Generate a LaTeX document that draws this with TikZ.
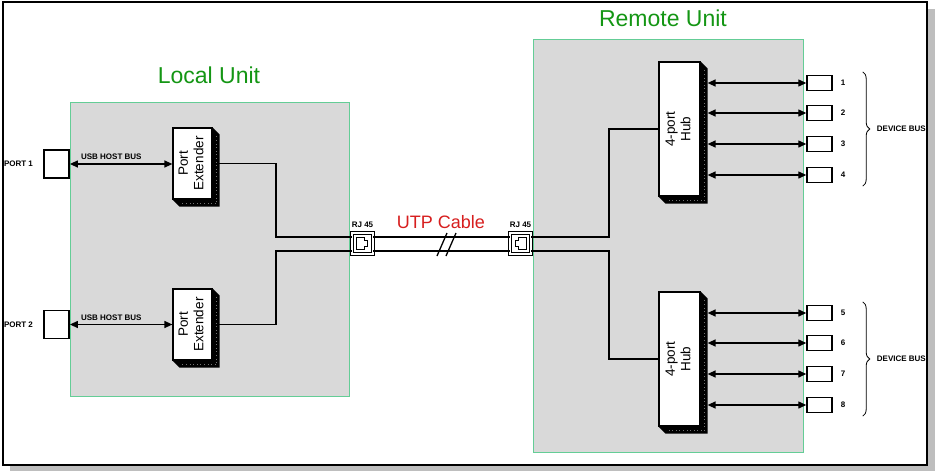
\documentclass[tikz,border=0pt]{standalone}
\usepackage{fontspec}
\setmainfont{Liberation Sans}
\usetikzlibrary{arrows.meta,calc,decorations.pathreplacing}

\definecolor{usbTitleColor}{RGB}{20,150,20}
\definecolor{usbCableColor}{RGB}{215,30,30}
\definecolor{usbUnitFill}{RGB}{217,217,217}
\definecolor{usbUnitBorder}{RGB}{100,205,150}
\definecolor{usbFrameShadow}{RGB}{190,190,190}

% black 3D edge along the right and bottom side of a block
\newcommand{\blockshade}[1]{%
  \fill[black] (#1.north east) -- ++(7,7) -- ($(#1.south east)+(7,7)$) -- ($(#1.south west)+(7,7)$) -- (#1.south west) -- (#1.south east) -- cycle;
  \draw[black!55, line width=.6pt, dash pattern=on .6pt off 3pt] ($(#1.north east)+(4,9)$) -- ($(#1.south east)+(4,4)$) -- ($(#1.south west)+(9,4)$);}

% RJ45 socket outline inside a jack, #2 = 1 or -1 for the side of the notch
\newcommand{\rjsocket}[2]{%
  \begin{scope}[shift={(#1.center)}, xscale=#2]
    \draw[line width=.9pt] (-6,-6) -- (2,-6) -- (2,-3) -- (5,-3) -- (5,3) -- (2,3) -- (2,6) -- (-6,6) -- cycle;
  \end{scope}}

\begin{document}
\begin{tikzpicture}[x=1pt, y=-1pt,
  wire/.style={line width=1.3pt},
  biarrow/.style={wire, {Triangle[length=8pt,width=7pt]}-{Triangle[length=8pt,width=7pt]}},
  portbox/.style={draw, line width=1.8pt, fill=white, minimum width=25pt, minimum height=28pt, inner sep=0pt},
  devbox/.style={draw, line width=1.4pt, fill=white, minimum width=25pt, minimum height=15pt, inner sep=0pt},
  block/.style={draw, line width=1.2pt, fill=white, inner sep=0pt, align=center, font=\fontsize{13.5}{15.5}\selectfont},
  jack/.style={draw, double, double distance=1.6pt, line width=.9pt, fill=white, minimum size=21pt, inner sep=0pt},
  smalllabel/.style={font=\bfseries\fontsize{8}{9}\selectfont, inner sep=2pt},
  unittitle/.style={font=\fontsize{23}{25}\selectfont, text=usbTitleColor},
  unitbox/.style={fill=usbUnitFill, draw=usbUnitBorder, line width=.9pt},
  devbrace/.style={decorate, decoration={brace, amplitude=7pt}, line width=.8pt}]
\useasboundingbox (0,0) rectangle (935,471);
% Page, frame and frame shadow
\fill[white] (0,0) rectangle (935,471);
\fill[usbFrameShadow] (927,9) rectangle (935,471);
\fill[usbFrameShadow] (10,465) rectangle (935,471);
\draw[line width=2pt] (3,2) rectangle (927,465);
% Unit boxes and titles
\draw[unitbox] (70,102) rectangle (349,396);
\draw[unitbox] (533,39) rectangle (803,452);
\node[unittitle] (localtitle) at (209,75) {Local Unit};
\node[unittitle] (remotetitle) at (663,18) {Remote Unit};
% Local unit
\node[portbox] (port1) at (56.5,164) {};
\node[portbox] (port2) at (56.5,324.5) {};
\node[smalllabel, anchor=east] (port1lbl) at ([xshift=-8pt]port1.west) {PORT 1};
\node[smalllabel, anchor=east] (port2lbl) at ([xshift=-8pt]port2.west) {PORT 2};
\node[block, minimum width=39pt, minimum height=71pt] (ext1) at (192.5,163.5) {\rotatebox{90}{\begin{tabular}{@{}c@{}}Port\\Extender\end{tabular}}};
\node[block, minimum width=39pt, minimum height=71pt] (ext2) at (192.5,324.5) {\rotatebox{90}{\begin{tabular}{@{}c@{}}Port\\Extender\end{tabular}}};
\blockshade{ext1}
\blockshade{ext2}
\draw[biarrow] (port1.east) -- (ext1.west |- port1.east);
\draw[biarrow] (port2.east) -- (ext2.west |- port2.east);
\node[smalllabel, anchor=south west] (bus1lbl) at ([xshift=9pt,yshift=2pt]port1.east) {USB HOST BUS};
\node[smalllabel, anchor=south west] (bus2lbl) at ([xshift=9pt,yshift=2pt]port2.east) {USB HOST BUS};
% RJ45 jacks and UTP cable
\node[jack] (jackL) at (362.5,243.5) {};
\node[jack] (jackR) at (520.5,243.5) {};
\rjsocket{jackL}{1}
\rjsocket{jackR}{-1}
\node[smalllabel, anchor=south] (jackLlbl) at ([yshift=3pt]jackL.north) {RJ 45};
\node[smalllabel, anchor=south] (jackRlbl) at ([yshift=3pt]jackR.north) {RJ 45};
\coordinate (jLa) at ($(jackL.west)+(0,-6.5)$);
\coordinate (jLb) at ($(jackL.west)+(0,7.5)$);
\coordinate (jRa) at ($(jackR.east)+(0,-6.5)$);
\coordinate (jRb) at ($(jackR.east)+(0,7.5)$);
\coordinate (splitL) at (276,0);
\coordinate (splitR) at (609,0);
\draw[wire] (ext1.east) -| (splitL |- jLa) -- (jLa);
\draw[wire] (ext2.east) -| (splitL |- jLb) -- (jLb);
\draw[wire] (jackL.east |- jLa) -- (jackR.west |- jLa);
\draw[wire] (jackL.east |- jLb) -- (jackR.west |- jLb);
\draw[wire] (437,256) -- (447,233);
\draw[wire] (446,256) -- (456,233);
\node[font=\fontsize{18}{20}\selectfont, text=usbCableColor] (utp) at (441,222) {UTP Cable};
% Remote unit
\node[block, minimum width=41pt, minimum height=134pt] (hub1) at (679.5,129) {\rotatebox{90}{\begin{tabular}{@{}c@{}}4-port\\Hub\end{tabular}}};
\node[block, minimum width=41pt, minimum height=134pt] (hub2) at (679.5,359) {\rotatebox{90}{\begin{tabular}{@{}c@{}}4-port\\Hub\end{tabular}}};
\blockshade{hub1}
\blockshade{hub2}
\draw[wire] (hub1.west) -| (splitR |- jRa) -- (jRa);
\draw[wire] (hub2.west) -| (splitR |- jRb) -- (jRb);
% Device ports
\node[devbox] (dev1) at (819.5,83) {};
\node[devbox] (dev2) at (819.5,113) {};
\node[devbox] (dev3) at (819.5,144) {};
\node[devbox] (dev4) at (819.5,175) {};
\node[devbox] (dev5) at (819.5,313) {};
\node[devbox] (dev6) at (819.5,343) {};
\node[devbox] (dev7) at (819.5,374) {};
\node[devbox] (dev8) at (819.5,405) {};
\draw[biarrow] ([xshift=7pt]hub1.east |- dev1) -- (dev1.west);
\draw[biarrow] ([xshift=7pt]hub1.east |- dev2) -- (dev2.west);
\draw[biarrow] ([xshift=7pt]hub1.east |- dev3) -- (dev3.west);
\draw[biarrow] ([xshift=7pt]hub1.east |- dev4) -- (dev4.west);
\draw[biarrow] ([xshift=7pt]hub2.east |- dev5) -- (dev5.west);
\draw[biarrow] ([xshift=7pt]hub2.east |- dev6) -- (dev6.west);
\draw[biarrow] ([xshift=7pt]hub2.east |- dev7) -- (dev7.west);
\draw[biarrow] ([xshift=7pt]hub2.east |- dev8) -- (dev8.west);
\node[smalllabel, anchor=west] (num1) at ([xshift=6pt]dev1.east) {1};
\node[smalllabel, anchor=west] (num2) at ([xshift=6pt]dev2.east) {2};
\node[smalllabel, anchor=west] (num3) at ([xshift=6pt]dev3.east) {3};
\node[smalllabel, anchor=west] (num4) at ([xshift=6pt]dev4.east) {4};
\node[smalllabel, anchor=west] (num5) at ([xshift=6pt]dev5.east) {5};
\node[smalllabel, anchor=west] (num6) at ([xshift=6pt]dev6.east) {6};
\node[smalllabel, anchor=west] (num7) at ([xshift=6pt]dev7.east) {7};
\node[smalllabel, anchor=west] (num8) at ([xshift=6pt]dev8.east) {8};
% Device bus braces
\draw[devbrace] ($(dev1.north east)+(30,-3)$) -- ($(dev4.south east)+(30,3)$);
\draw[devbrace] ($(dev5.north east)+(30,-3)$) -- ($(dev8.south east)+(30,3)$);
\node[smalllabel, anchor=west] (busA) at ($(dev1.east)!.5!(dev4.east)+(42,0)$) {DEVICE BUS};
\node[smalllabel, anchor=west] (busB) at ($(dev5.east)!.5!(dev8.east)+(42,0)$) {DEVICE BUS};
\end{tikzpicture}
\end{document}
